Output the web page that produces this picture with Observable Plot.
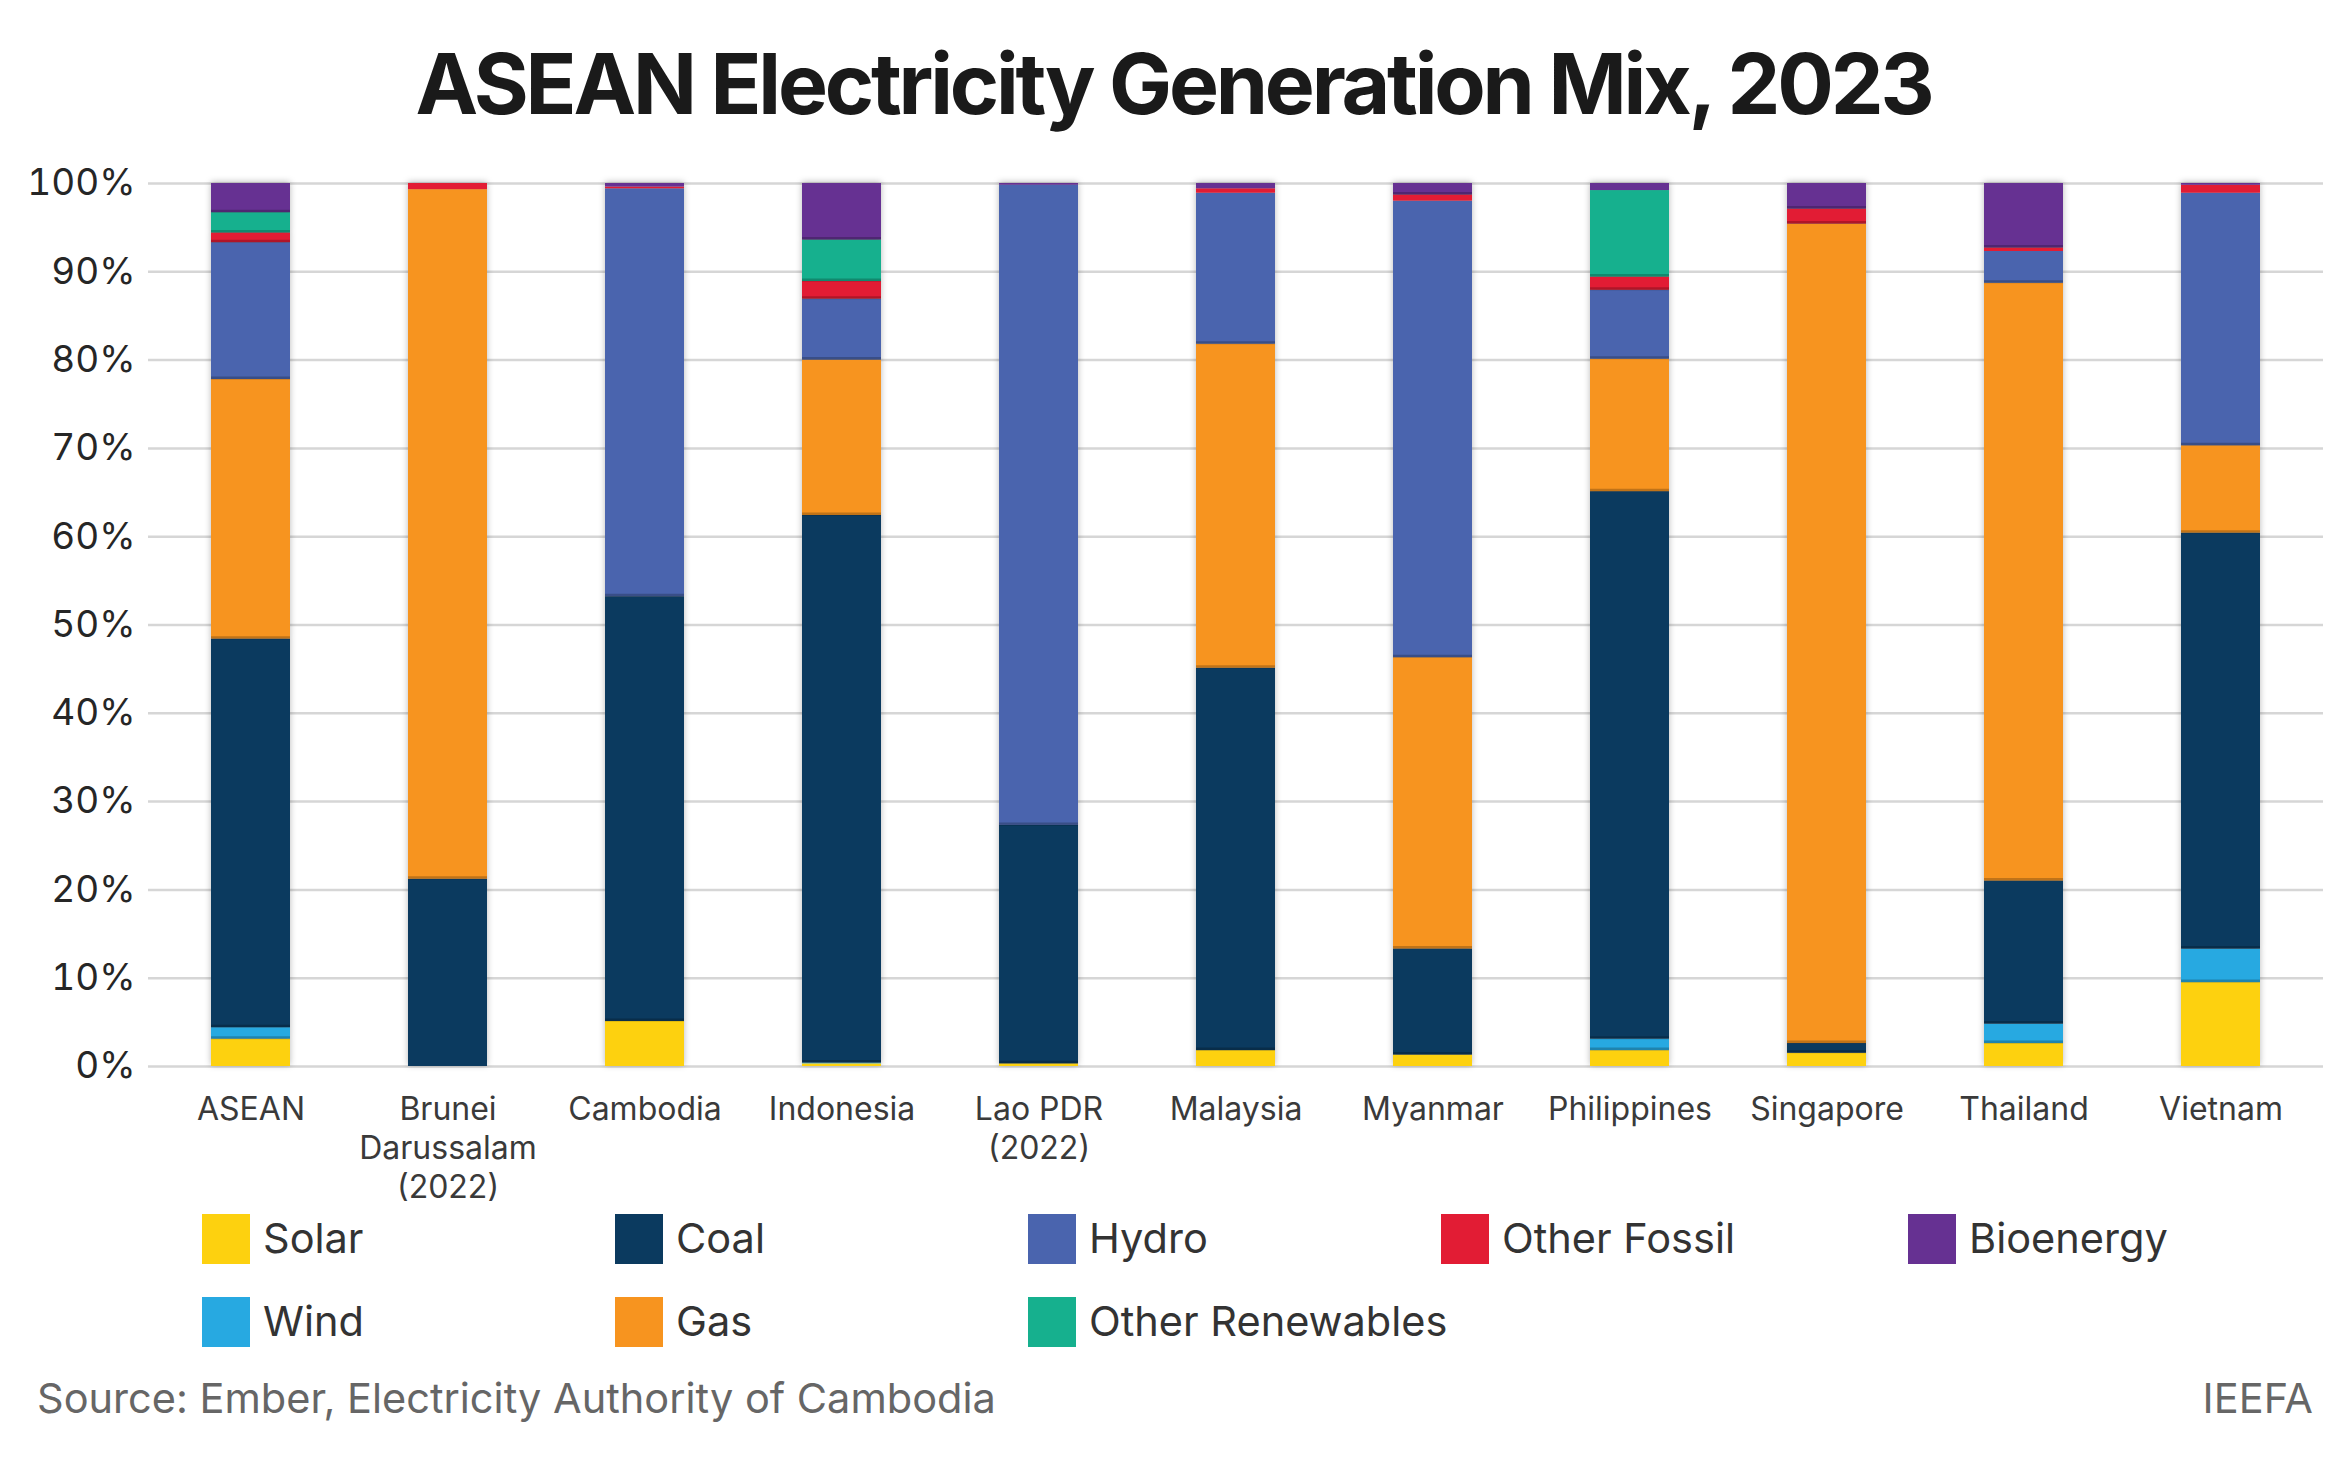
<!DOCTYPE html>
<html>
<head>
<meta charset="utf-8">
<script src="https://cdn.jsdelivr.net/npm/d3@7"></script>
<script src="https://cdn.jsdelivr.net/npm/@observablehq/plot@0.6"></script>
<style>
  body { margin: 0; background: #fff; font-family: Inter, "Noto Sans", sans-serif; }
  #wrap { position: relative; width: 2347px; height: 1461px; overflow: hidden; background: #fff; }
  #title { position: absolute; left: 0; top: 42px; width: 2347px; text-align: center;
           font-size: 84px; line-height: 1; font-weight: 700; color: #1a1a1a; letter-spacing: -0.038em; }
  #chart { position: absolute; left: 0; top: 150px; }
  #legend { position: absolute; left: 202px; top: 1214px; display: grid;
            grid-template-columns: 413px 413px 413px 467px auto; grid-auto-rows: 83px; }
  .item { display: flex; align-items: flex-start; white-space: nowrap; }
  .sw { width: 48px; height: 50px; flex: none; }
  .lab { margin-left: 13px; height: 50px; display: flex; align-items: center; font-size: 41.5px; color: #333; line-height: 1; white-space: nowrap; }
  #source { position: absolute; left: 37px; top: 1378px; font-size: 41.5px; line-height: 1; color: #666; }
  #brand { position: absolute; right: 34px; top: 1378px; font-size: 41.5px; line-height: 1; color: #666; }
</style>
</head>
<body>
<div id="wrap">
  <div id="title"></div>
  <div id="chart"></div>
  <div id="legend"></div>
  <div id="source"></div>
  <div id="brand"></div>
</div>
<script>
// ---- Data ----
const titleText = "ASEAN Electricity Generation Mix, 2023";
const sourceText = "Source: Ember, Electricity Authority of Cambodia";
const brandText = "IEEFA";

const categories = ["ASEAN", "Brunei\nDarussalam\n(2022)", "Cambodia", "Indonesia", "Lao PDR\n(2022)",
  "Malaysia", "Myanmar", "Philippines", "Singapore", "Thailand", "Vietnam"];

// stacking order, bottom to top
const sources = ["Solar", "Wind", "Coal", "Gas", "Hydro", "Other Fossil", "Other Renewables", "Bioenergy"];
const sourceColors = ["#FDD10F", "#27A9E1", "#0B3A5F", "#F7941F", "#4A64AE", "#E21C34", "#16B08E", "#663192"];
const legendOrder = ["Solar", "Coal", "Hydro", "Other Fossil", "Bioenergy", "Wind", "Gas", "Other Renewables"];

// share of generation, %
const solar       = [3.1, 0.0, 5.1, 0.3, 0.3, 1.8, 1.3, 1.8, 1.5, 2.6, 9.5];
const wind        = [1.3, 0.0, 0.0, 0.1, 0.0, 0.0, 0.0, 1.3, 0.0, 2.2, 3.8];
const coal        = [44.0, 21.2, 48.1, 62.0, 27.0, 43.3, 12.0, 62.0, 1.1, 16.2, 47.1];
const gas         = [29.4, 78.1, 0.0, 17.6, 0.0, 36.7, 33.0, 15.0, 92.8, 67.7, 9.9];
const hydro       = [15.5, 0.0, 46.2, 6.9, 72.5, 17.1, 51.7, 7.8, 0.0, 3.6, 28.6];
const otherFossil = [1.1, 0.7, 0.2, 2.0, 0.0, 0.5, 0.7, 1.5, 1.7, 0.4, 0.9];
const otherRenew  = [2.3, 0.0, 0.0, 4.7, 0.0, 0.0, 0.0, 9.8, 0.0, 0.0, 0.0];
const bioenergy   = [3.3, 0.0, 0.4, 6.4, 0.2, 0.6, 1.3, 0.8, 2.9, 7.3, 0.2];

const yTicks = [0, 10, 20, 30, 40, 50, 60, 70, 80, 90, 100];

// ---- Build table ----
const seriesValues = [solar, wind, coal, gas, hydro, otherFossil, otherRenew, bioenergy];
const table = [];
sources.forEach((s, si) => {
  categories.forEach((c, ci) => {
    table.push({country: c, source: s, value: seriesValues[si][ci]});
  });
});

// bevel shade at the bottom edge of each segment (skip tiny and ground-level segments)
const shadeOpacity = d => {
  const ci = categories.indexOf(d.country);
  const si = sources.indexOf(d.source);
  let below = 0;
  for (let k = 0; k < si; k++) below += seriesValues[k][ci];
  return (d.value >= 1 && below > 0.05) ? 0.22 : 0;
};

const chart = Plot.plot({
  width: 2347,
  height: 1050,
  marginTop: 33,
  marginBottom: 134,
  marginLeft: 148,
  marginRight: 24,
  style: {fontFamily: "Inter, 'Noto Sans', sans-serif", background: "transparent", overflow: "visible"},
  x: {domain: categories, paddingInner: 0.6, paddingOuter: 0.3, label: null},
  y: {domain: [0, 100], label: null},
  color: {domain: sources, range: sourceColors},
  marks: [
    Plot.gridY(yTicks, {stroke: "#d6d6d6", strokeOpacity: 1, strokeWidth: 2.5}),
    Plot.barY(table, {x: "country", y: "value", fill: "source", z: "source", order: sources}),
    Plot.tickY(table, Plot.stackY1({
      x: "country", y: "value", z: "source", order: sources,
      stroke: "#000", strokeOpacity: shadeOpacity, strokeWidth: 3, dy: -1.5
    })),
    Plot.axisY(yTicks, {tickSize: 0, tickPadding: 13, fontSize: 37, fill: "#262626", tickFormat: d => d + "%"}),
    Plot.axisX({tickSize: 0, tickPadding: 26, fontSize: 32, lineHeight: 1.22, fill: "#3a3a3a"})
  ]
});
document.getElementById("chart").appendChild(chart);
// subtle shadow like the original
chart.querySelectorAll('g[aria-label="bar"]').forEach(g => {
  g.style.filter = "drop-shadow(0px -1px 3px rgba(0,0,0,0.28))";
});

document.getElementById("title").textContent = titleText;
document.getElementById("source").textContent = sourceText;
document.getElementById("brand").textContent = brandText;

const legend = document.getElementById("legend");
legendOrder.forEach(name => {
  const item = document.createElement("div");
  item.className = "item";
  const sw = document.createElement("div");
  sw.className = "sw";
  sw.style.background = sourceColors[sources.indexOf(name)];
  const lab = document.createElement("div");
  lab.className = "lab";
  lab.textContent = name;
  item.appendChild(sw);
  item.appendChild(lab);
  legend.appendChild(item);
});
</script>
</body>
</html>
